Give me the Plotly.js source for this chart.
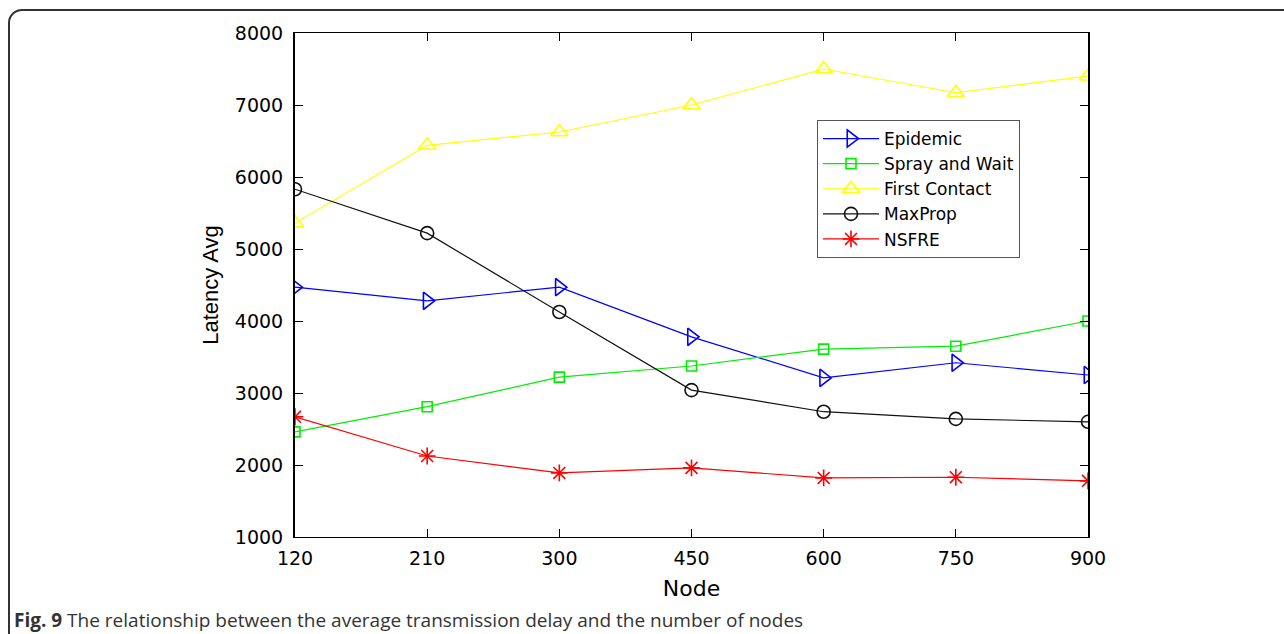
<!DOCTYPE html>
<html>
<head>
<meta charset="utf-8">
<script src="https://cdn.plot.ly/plotly-3.0.1.min.js"></script>
<style>
  html, body { margin: 0; padding: 0; background: #fff; overflow: hidden; }
  #frame { position: absolute; left: 8px; top: 9px; width: 1400px; height: 800px;
           border: 2px solid #333; border-radius: 14px; box-sizing: border-box; }
  #plot { position: absolute; left: 0; top: 0; width: 1284px; height: 634px; }
</style>
</head>
<body>
<div id="frame"></div>
<div id="plot"></div>
<script>
const nodes = ['120', '210', '300', '450', '600', '750', '900'];
const epidemic     = [4470, 4280, 4470, 3780, 3210, 3420, 3250];
const sprayAndWait = [2460, 2810, 3220, 3375, 3610, 3650, 4000];
const firstContact = [5360, 6440, 6625, 7000, 7500, 7170, 7400];
const maxProp      = [5830, 5220, 4125, 3040, 2740, 2640, 2600];
const nsfre        = [2670, 2125, 1890, 1960, 1820, 1830, 1780];

function tr(name, y, color, symbol, size) {
  return {
    type: 'scatter', mode: 'lines+markers', name: name,
    x: nodes, y: y,
    line: { color: color, width: 1.2 },
    marker: { symbol: symbol, size: size, color: color, line: { color: color, width: 1.6 } }
  };
}

const data = [
  tr('Epidemic', epidemic, '#0000ff', 'triangle-right-open', 15),
  tr('Spray and Wait', sprayAndWait, '#00ee00', 'square-open', 10),
  tr('First Contact', firstContact, '#ffff00', 'triangle-up-open', 15),
  tr('MaxProp', maxProp, '#111111', 'circle-open', 13),
  tr('NSFRE', nsfre, '#ff0000', 'asterisk-open', 14)
];

const L = 295, R = 1088, T = 33, B = 537;
const W = 1284, H = 634;
const pw = R - L, ph = B - T;
const WIDE = 'DejaVu Sans, Verdana, sans-serif';

const layout = {
  width: W, height: H,
  margin: { l: L, r: W - R, t: T, b: H - B, pad: 0 },
  paper_bgcolor: 'rgba(0,0,0,0)',
  plot_bgcolor: '#ffffff',
  font: { family: WIDE, color: '#000' },
  showlegend: true,
  legend: {
    x: (817 - L) / pw, y: (B - 120) / ph, xanchor: 'left', yanchor: 'top',
    bgcolor: '#ffffff', bordercolor: '#555', borderwidth: 1,
    font: { size: 17, family: WIDE },
    tracegroupgap: 0, itemwidth: 56
  },
  xaxis: {
    type: 'category', range: [0, 6],
    showgrid: false, zeroline: false,
    showline: true, linecolor: '#000', linewidth: 1, mirror: 'ticks',
    ticks: 'inside', ticklen: 8, tickcolor: '#000', tickwidth: 1,
    tickfont: { size: 19, family: WIDE }, ticklabelstandoff: 4,
    title: { text: 'Node', font: { size: 22, family: WIDE }, standoff: 12 }
  },
  yaxis: {
    range: [1000, 8000], dtick: 1000, tick0: 1000,
    showgrid: false, zeroline: false,
    showline: true, linecolor: '#000', linewidth: 2, mirror: 'ticks',
    ticks: 'inside', ticklen: 8, tickcolor: '#000', tickwidth: 1,
    tickfont: { size: 19, family: WIDE }, ticklabelstandoff: 6,
    title: { text: 'Latency Avg', font: { size: 22, family: 'Liberation Sans, Arial, sans-serif' }, standoff: 10 }
  },
  annotations: [{
    xref: 'paper', yref: 'paper',
    x: (12 - L) / pw, y: (B - 620) / ph, xanchor: 'left', yanchor: 'middle',
    showarrow: false, align: 'left',
    text: '<b>Fig. 9</b> The relationship between the average transmission delay and the number of nodes',
    font: { family: 'Open Sans, Noto Sans, sans-serif', size: 19, color: '#333' }
  }]
};

Plotly.newPlot('plot', data, layout, { displayModeBar: false, responsive: false });
</script>
</body>
</html>
